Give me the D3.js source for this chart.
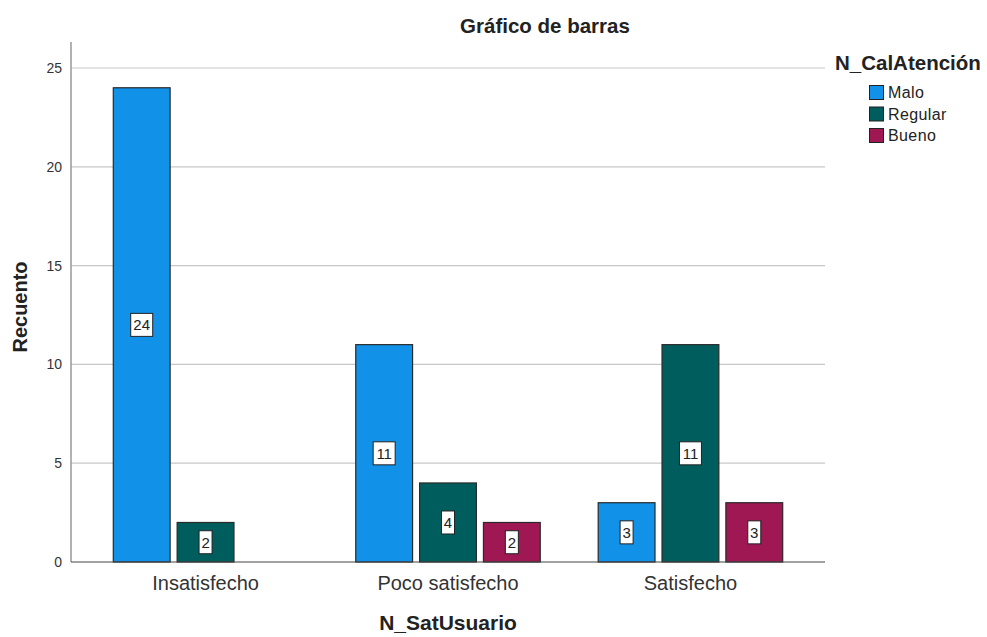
<!DOCTYPE html>
<html>
<head>
<meta charset="utf-8">
<script src="https://cdn.jsdelivr.net/npm/d3@7"></script>
<style>
  body { margin: 0; background: #fff; }
  svg text { font-family: "Liberation Sans", Arial, sans-serif; }
</style>
</head>
<body>
<svg id="chart" width="987" height="637"></svg>
<script>
// data
const categories = ["Insatisfecho", "Poco satisfecho", "Satisfecho"];
const seriesNames = ["Malo", "Regular", "Bueno"];
const malo = [24, 11, 3];
const regular = [2, 4, 11];
const bueno = [0, 2, 3];
const yTicks = [0, 5, 10, 15, 20, 25];
const colors = ["#1192e8", "#005d5d", "#9f1853"];

const series = [malo, regular, bueno];
const rows = categories.map(function(c, i) {
  return { cat: c, values: seriesNames.map(function(s, j) { return { key: s, value: series[j][i] }; }) };
});

const svg = d3.select("#chart");
const plotLeft = 71, plotRight = 825, plotTop = 42, plotBottom = 562;

const y = d3.scaleLinear().domain([0, 25]).range([plotBottom, 68]);
const x0 = d3.scaleBand().domain(categories).range([plotLeft, plotRight])
  .paddingInner(0.21).paddingOuter(0.16);
const x1 = d3.scaleBand().domain(seriesNames).range([0, x0.bandwidth()])
  .paddingInner(0.11).paddingOuter(0.055);
const color = d3.scaleOrdinal().domain(seriesNames).range(colors);

// gridlines
svg.append("g")
  .selectAll("line")
  .data(yTicks.filter(function(t) { return t > 0; }))
  .enter().append("line")
  .attr("x1", plotLeft).attr("x2", plotRight)
  .attr("y1", function(d) { return y(d); })
  .attr("y2", function(d) { return y(d); })
  .attr("stroke", "#c8c8c8")
  .attr("stroke-width", 1.2);

// y axis
const yAxis = svg.append("g")
  .attr("transform", "translate(" + plotLeft + ",0)")
  .call(d3.axisLeft(y).tickValues(yTicks).tickSize(0).tickPadding(9));
yAxis.select(".domain").remove();
yAxis.selectAll("text").attr("font-size", 14).attr("fill", "#333");
svg.append("line")
  .attr("x1", plotLeft).attr("x2", plotLeft).attr("y1", plotTop).attr("y2", plotBottom)
  .attr("stroke", "#999").attr("stroke-width", 1.5);

// bars
const groups = svg.append("g")
  .selectAll("g")
  .data(rows)
  .enter().append("g")
  .attr("transform", function(d) { return "translate(" + x0(d.cat) + ",0)"; });

groups.selectAll("rect")
  .data(function(d) { return d.values.filter(function(v) { return v.value > 0; }); })
  .enter().append("rect")
  .attr("x", function(d) { return x1(d.key); })
  .attr("y", function(d) { return y(d.value); })
  .attr("width", x1.bandwidth())
  .attr("height", function(d) { return plotBottom - y(d.value); })
  .attr("fill", function(d) { return color(d.key); })
  .attr("stroke", "#2a2a2a")
  .attr("stroke-width", 1.2);

// value labels in white boxes
const labels = groups.selectAll("g.lbl")
  .data(function(d) { return d.values.filter(function(v) { return v.value > 0; }); })
  .enter().append("g")
  .attr("class", "lbl")
  .attr("transform", function(d) {
    return "translate(" + (x1(d.key) + x1.bandwidth() / 2) + "," + y(d.value / 2) + ")";
  });
labels.append("rect")
  .attr("x", function(d) { return String(d.value).length > 1 ? -11 : -6.5; })
  .attr("y", -11.5)
  .attr("width", function(d) { return String(d.value).length > 1 ? 22 : 13; })
  .attr("height", 23)
  .attr("fill", "#fff")
  .attr("stroke", "#222")
  .attr("stroke-width", 1);
labels.append("text")
  .attr("text-anchor", "middle")
  .attr("dy", "0.36em")
  .attr("font-size", 15)
  .attr("fill", "#222")
  .text(function(d) { return d.value; });

// x axis baseline and category labels
svg.append("line")
  .attr("x1", plotLeft).attr("x2", plotRight).attr("y1", plotBottom).attr("y2", plotBottom)
  .attr("stroke", "#444").attr("stroke-width", 1.2);
const xAxis = svg.append("g")
  .attr("transform", "translate(0," + plotBottom + ")")
  .call(d3.axisBottom(x0).tickSize(0).tickPadding(14));
xAxis.select(".domain").remove();
xAxis.selectAll("text").attr("font-size", 20).attr("fill", "#333");

// titles
svg.append("text")
  .attr("x", 545).attr("y", 33)
  .attr("text-anchor", "middle")
  .attr("font-size", 20.5).attr("font-weight", "bold").attr("fill", "#222")
  .text("Gráfico de barras");
svg.append("text")
  .attr("transform", "translate(27,307) rotate(-90)")
  .attr("text-anchor", "middle")
  .attr("font-size", 20).attr("font-weight", "bold").attr("fill", "#222")
  .text("Recuento");
svg.append("text")
  .attr("x", 448).attr("y", 630)
  .attr("text-anchor", "middle")
  .attr("font-size", 21).attr("font-weight", "bold").attr("fill", "#222")
  .text("N_SatUsuario");

// legend
svg.append("text")
  .attr("x", 835).attr("y", 70)
  .attr("font-size", 20.5).attr("font-weight", "bold").attr("fill", "#222")
  .text("N_CalAtención");
const leg = svg.append("g")
  .selectAll("g")
  .data(seriesNames)
  .enter().append("g")
  .attr("transform", function(d, i) { return "translate(869.5," + (85.5 + i * 21.5) + ")"; });
leg.append("rect")
  .attr("width", 14).attr("height", 14)
  .attr("fill", function(d) { return color(d); })
  .attr("stroke", "#222").attr("stroke-width", 1);
leg.append("text")
  .attr("x", 18.5).attr("y", 7).attr("dy", "0.36em")
  .attr("font-size", 16).attr("letter-spacing", 0.4).attr("fill", "#222")
  .text(function(d) { return d; });
</script>
</body>
</html>
